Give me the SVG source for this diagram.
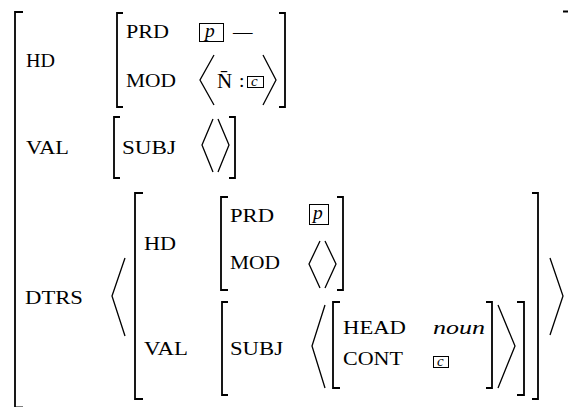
<svg xmlns="http://www.w3.org/2000/svg" width="568" height="407" viewBox="0 0 568 407">
<style>
text{font-family:'Liberation Serif',serif;font-size:19.5px;fill:#000}
.it{font-style:italic}
.br{fill:none;stroke:#000;stroke-width:1.8}
.ang{fill:none;stroke:#000;stroke-width:1.3;stroke-linejoin:miter}
.box{fill:none;stroke:#000;stroke-width:1}
</style>
<rect width="568" height="407" fill="#fff"/>
<g id="outer">
<path class="br" d="M23,12 H15 V407.5 H23"/>
<path class="br" d="M563,11.5 H570 V420"/>
</g>
<g id="row-hd">
<text x="26" y="67" textLength="29" lengthAdjust="spacingAndGlyphs">HD</text>
<path class="br" d="M123,13 H117 V107 H123"/>
<path class="br" d="M279,13 H285 V107 H279"/>
<text x="126" y="38" textLength="43" lengthAdjust="spacingAndGlyphs">PRD</text>
<text x="126" y="87" textLength="50" lengthAdjust="spacingAndGlyphs">MOD</text>
<rect class="box" x="199.5" y="23.5" width="24" height="18"/>
<text class="it" x="205" y="37">p</text>
<text x="233" y="38">—</text>
<path class="ang" d="M214,55 L200,80 L214,105"/>
<path class="ang" d="M263,55 L276,80 L263,105"/>
<text x="217" y="88" style="font-size:21px">N̄</text>
<text x="239" y="87">:</text>
<rect class="box" x="247.5" y="76.5" width="16" height="11"/>
<text class="it" x="251" y="86" style="font-size:15px">c</text>
</g>
<g id="row-val">
<text x="26" y="154" textLength="43" lengthAdjust="spacingAndGlyphs">VAL</text>
<path class="br" d="M120,117 H114 V178 H120"/>
<path class="br" d="M229,117 H235 V178 H229"/>
<text x="122" y="154" textLength="54" lengthAdjust="spacingAndGlyphs">SUBJ</text>
<path class="ang" d="M213,119 L202,145 L213,172"/>
<path class="ang" d="M218,119 L229,145 L218,172"/>
</g>
<g id="row-dtrs">
<text x="25" y="304" textLength="58" lengthAdjust="spacingAndGlyphs">DTRS</text>
<path class="ang" d="M125,258 L112,296 L125,336"/>
<path class="ang" d="M550,258 L563,296 L550,335"/>
<g id="dtr">
<path class="br" d="M143,193 H135 V399 H143"/>
<path class="br" d="M532,193 H538 V399 H532"/>
<text x="144" y="250" textLength="32" lengthAdjust="spacingAndGlyphs">HD</text>
<text x="144" y="355" textLength="44" lengthAdjust="spacingAndGlyphs">VAL</text>
<g id="dtr-hd">
<path class="br" d="M228,197 H221 V290 H228"/>
<path class="br" d="M337,197 H343 V290 H337"/>
<text x="230" y="222" textLength="44" lengthAdjust="spacingAndGlyphs">PRD</text>
<text x="230" y="269" textLength="50" lengthAdjust="spacingAndGlyphs">MOD</text>
<rect class="box" x="309.5" y="204.5" width="19" height="20"/>
<text class="it" x="313" y="219">p</text>
<path class="ang" d="M320,241 L309,264 L320,288"/>
<path class="ang" d="M325,241 L336,264 L325,288"/>
</g>
<g id="dtr-val">
<path class="br" d="M228,302 H222 V395 H228"/>
<path class="br" d="M517,302 H524 V395 H517"/>
<text x="230" y="355" textLength="53" lengthAdjust="spacingAndGlyphs">SUBJ</text>
<path class="ang" d="M325,305 L312,346 L325,388"/>
<path class="ang" d="M498,305 L515,346 L498,388"/>
<g id="subj-avm">
<path class="br" d="M340,302 H333 V388 H340"/>
<path class="br" d="M486,302 H492 V388 H486"/>
<text x="343" y="334" textLength="63" lengthAdjust="spacingAndGlyphs">HEAD</text>
<text class="it" x="433" y="334" textLength="52" lengthAdjust="spacingAndGlyphs">noun</text>
<text x="343" y="365" textLength="60" lengthAdjust="spacingAndGlyphs">CONT</text>
<rect class="box" x="433.5" y="356.5" width="15" height="11"/>
<text class="it" x="437" y="366" style="font-size:15px">c</text>
</g>
</g>
</g>
</g>
</svg>
